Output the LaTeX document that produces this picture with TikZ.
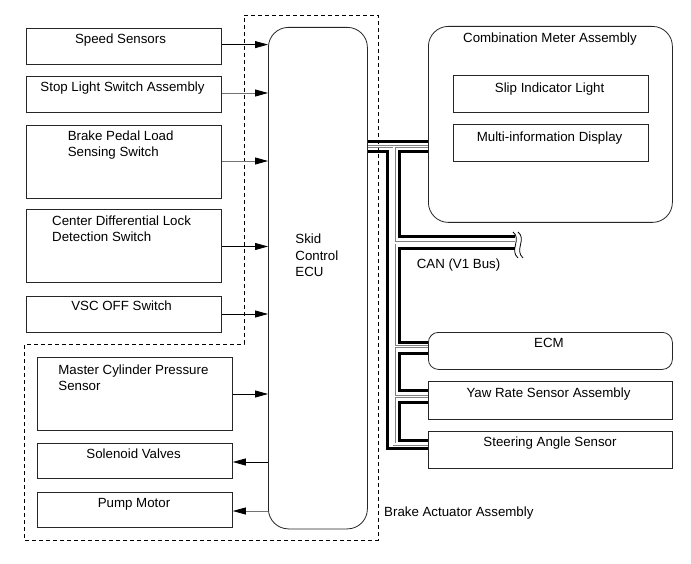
\documentclass[tikz,border=0pt]{standalone}
\usepackage{fontspec}
\setmainfont{Liberation Sans}
\usetikzlibrary{arrows.meta}
\begin{document}
\begin{tikzpicture}[x=1pt,y=-1pt,
  every node/.style={font=\fontsize{13.3}{16.5}\selectfont},
  box/.style={draw=black!85, line width=0.8pt, rectangle, anchor=north west, inner sep=0pt},
  txt/.style={inner sep=0pt, anchor=base},
  ltxt/.style={inner sep=0pt, anchor=base west},
  mtxt/.style={inner sep=0pt, anchor=north west, align=left},
  arr/.style={line width=0.8pt, -{Triangle[length=13pt,width=7pt,color=black]}},
  bus/.style={line width=3pt, line join=miter, line cap=butt},
  outline/.style={line width=0.8pt, dash pattern=on 4pt off 3pt}
]
\fill[white] (0,0) rectangle (691,564);
\useasboundingbox (0,0) rectangle (691,564);

% dashed brake actuator outline
\draw[outline] (244,15) -- (378,15) -- (378,540) -- (24.5,540) -- (24.5,344) -- (244,344) -- cycle;

% left boxes
\node[box, minimum width=195pt, minimum height=36pt] (speed) at (26,28) {};
\node[box, minimum width=195pt, minimum height=36pt] (stop) at (26,76) {};
\node[box, minimum width=195pt, minimum height=73pt] (brake) at (26,125) {};
\node[box, minimum width=195pt, minimum height=72.5pt] (cdl) at (26,209.5) {};
\node[box, minimum width=195pt, minimum height=36pt] (vsc) at (26,296) {};
\node[box, minimum width=195pt, minimum height=73pt] (master) at (37,357) {};
\node[box, minimum width=195pt, minimum height=35.5pt] (sol) at (37,442.5) {};
\node[box, minimum width=195pt, minimum height=35pt] (pump) at (37,492) {};

% ECU
\node[box, rounded corners=20pt, minimum width=99pt, minimum height=501.5pt] (ecu) at (268,27) {};

% right boxes
\node[box, rounded corners=20pt, minimum width=244pt, minimum height=196pt] (comb) at (428,26) {};
\node[box, minimum width=195.5pt, minimum height=37.5pt] (slip) at (452.5,75) {};
\node[box, minimum width=195.5pt, minimum height=37.5pt] (multi) at (452.5,124) {};
\node[box, rounded corners=10pt, minimum width=244pt, minimum height=37pt] (ecm) at (428,332) {};
\node[box, minimum width=244pt, minimum height=38pt] (yaw) at (428,381) {};
\node[box, minimum width=244pt, minimum height=37.5pt] (steer) at (428,430.5) {};

% texts
\node[txt] (tspeed) at (120.5,43.5) {Speed Sensors};
\node[txt] (tstop) at (122.5,91.7) {Stop Light Switch Assembly};
\node[mtxt] (tbrake) at (67.6,130.3) {Brake Pedal Load\\Sensing Switch};
\node[mtxt] (tcdl) at (52,215.3) {Center Differential Lock\\Detection Switch};
\node[txt] (tvsc) at (121.6,310.7) {VSC OFF Switch};
\node[mtxt] (tmaster) at (58.2,364.3) {Master Cylinder Pressure\\Sensor};
\node[txt] (tsol) at (133.6,458.4) {Solenoid Valves};
\node[txt] (tpump) at (134,507.4) {Pump Motor};
\node[mtxt] (tecu) at (295.2,233.8) {Skid\\Control\\ECU};
\node[txt] (tcomb) at (550,42.1) {Combination Meter Assembly};
\node[txt] (tslip) at (549.6,92.2) {Slip Indicator Light};
\node[txt] (tmulti) at (549.6,141.2) {Multi-information Display};
\node[txt] (tecm) at (549,347.7) {ECM};
\node[txt] (tyaw) at (548.5,397.4) {Yaw Rate Sensor Assembly};
\node[txt] (tsteer) at (550,446.7) {Steering Angle Sensor};
\node[ltxt] (tcan) at (416.6,268.7) {CAN (V1 Bus)};
\node[ltxt] (tact) at (384,516.7) {Brake Actuator Assembly};

% input / output arrows
\draw[arr] (speed.east |- 0,44.6) -- (ecu.west |- 0,44.6);
\draw[arr, draw=black!55] (stop.east |- 0,93) -- (ecu.west |- 0,93);
\draw[arr, draw=black!55] (brake.east |- 0,161) -- (ecu.west |- 0,161);
\draw[arr] (cdl.east |- 0,246.5) -- (ecu.west |- 0,246.5);
\draw[arr] (vsc.east |- 0,314) -- (ecu.west |- 0,314);
\draw[arr] (master.east |- 0,394) -- (ecu.west |- 0,394);
\draw[arr] (ecu.west |- 0,462) -- (sol.east |- 0,462);
\draw[arr, draw=black!55] (ecu.west |- 0,511) -- (pump.east |- 0,511);

% CAN bus: hollow (gray) wire
\foreach \w/\c in {3.0/black!50, 1.2/white}{
  \draw[line width=\w pt, \c, line cap=butt]
    (ecu.east |- 0,146.8) -- (comb.west |- 0,146.8)
    (394,146.8) -- (394,444) -- (steer.west |- 0,444)
    (394,243) -- (515,243)
    (394,346.8) -- (ecm.west |- 0,346.8)
    (394,396.5) -- (yaw.west |- 0,396.5);
}
% CAN bus: black wire
\draw[bus] (ecu.east |- 0,142) -- (comb.west |- 0,142);
\draw[bus] (ecu.east |- 0,152) -- (387.5,152) -- (387.5,448.5) -- (steer.west |- 0,448.5);
\draw[bus] (comb.west |- 0,152) -- (399.5,152) -- (399.5,237) -- (515,237);
\draw[bus] (515,249) -- (399.5,249) -- (399.5,342) -- (ecm.west |- 0,342);
\draw[bus] (ecm.west |- 0,353) -- (399.5,353) -- (399.5,390) -- (yaw.west |- 0,390);
\draw[bus] (yaw.west |- 0,402) -- (399.5,402) -- (399.5,440) -- (steer.west |- 0,440);

% break mark
\draw[line width=0.8pt] (513,232) .. controls (522,239) and (509,250) .. (518,258);
\draw[line width=0.8pt] (518,232) .. controls (527,239) and (514,250) .. (523,258);
\end{tikzpicture}
\end{document}
